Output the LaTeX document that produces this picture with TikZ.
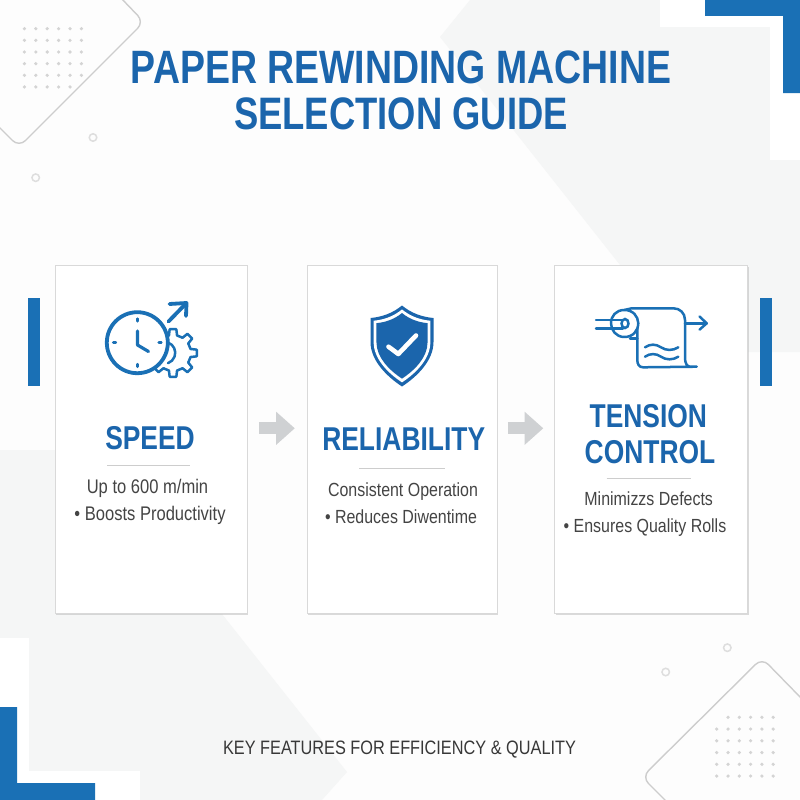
\documentclass[tikz,border=0pt]{standalone}
\usepackage{fontspec}
\setmainfont{Liberation Sans}[FakeStretch=0.84]
\newfontfamily\headfont{Liberation Sans}[FakeStretch=0.80]
\usepackage{tikz}
\usetikzlibrary{arrows.meta}
\usetikzlibrary{shadows}
\usetikzlibrary{shapes.geometric}
\definecolor{paper}{HTML}{FDFDFD}
\definecolor{backdrop}{HTML}{F5F6F6}
\definecolor{brand}{HTML}{1A70B5}
\definecolor{inkblue}{HTML}{1B65AC}
\definecolor{bodygrey}{HTML}{444444}
\definecolor{linegrey}{HTML}{CDCDCD}
\definecolor{arrowgrey}{HTML}{CFD1D3}
\begin{document}
\begin{tikzpicture}[x=1pt,y=-1pt,node distance=27pt]
        \tikzstyle{card} = [draw=black!15, line width=1pt, fill=white, minimum height=348pt,
            general shadow={fill=black!35, opacity=0.4, shadow xshift=1pt, shadow yshift=-2.4pt}];
        \tikzstyle{head} = [font=\headfont\bfseries\fontsize{33}{33}\selectfont, inkblue, inner sep=0pt];
        \tikzstyle{body} = [font=\fontsize{19}{19}\selectfont, bodygrey, inner sep=0pt, text height=17pt, text depth=3pt];
        \tikzstyle{rule} = [linegrey, line width=1.4pt];
        \tikzstyle{outline} = [linegrey, line width=1.4pt, rounded corners=9pt];
        \tikzstyle{ring} = [draw=black!13, line width=1.5pt, circle, minimum size=7.5pt, inner sep=0pt];
        \tikzstyle{icon} = [brand, line width=2.5pt, line cap=round, line join=round];
        \tikzstyle{flow} = [arrowgrey, line width=12pt, -{Triangle[length=18.7pt,width=32pt]}];

        \useasboundingbox (0,0) rectangle (800,800);
        \fill[paper] (0,0) rectangle (800,800);

        % background
        \fill[backdrop] (470,0) -- (660,0) -- (660,27) -- (770,27) -- (770,160) -- (800,160) -- (800,352)
            -- (620,352) -- (620,265) -- (440,37) -- cycle;
        \fill[backdrop] (0,450) -- (100,450) -- (222,614) -- (347,772) -- (322,800) -- (140,800)
            -- (140,771) -- (29,771) -- (29,638) -- (0,638) -- cycle;
        \fill[white] (660,0) rectangle (800,27);
        \fill[white] (770,27) rectangle (800,160);
        \fill[white] (0,638) rectangle (29,800);
        \fill[white] (29,771) rectangle (140,800);

        \draw[outline] (120,-3) -- (144,22) -- (19,147) -- (-4,124);
        \draw[outline] (803,700) -- (762,658) -- (642,777) -- (668,803);
        \foreach \i in {0,...,5} \foreach \j in {0,...,5} {
            \ifnum\numexpr\i*10+\j=55 \else
                \fill[black!17] (24.4+11.4*\i,28.7+11.65*\j) circle (1.8);
            \fi
            \ifnum\numexpr\i*10+\j=0 \else
                \fill[black!17] (716.7+11.3*\i,717.3+11.75*\j) circle (1.8);
            \fi
        }
        \node[ring] (r1) at (93,137.5) {};
        \node[ring] (r2) at (35.7,177.7) {};
        \node[ring] (r3) at (727.3,647.7) {};
        \node[ring] (r4) at (665.7,672) {};

        % blue corners and bars
        \fill[brand] (705,0) -- (800,0) -- (800,93) -- (783,93) -- (783,16) -- (705,16) -- cycle;
        \fill[brand] (0,707) -- (17,707) -- (17,783) -- (95,783) -- (95,800) -- (0,800) -- cycle;
        \fill[brand] (28,297.5) rectangle (40,386);
        \fill[brand] (760,297.5) rectangle (772,386);

        \node[card, minimum width=192pt] (c1) at (151,439) {};
        \node[card, minimum width=190pt] (c2) at (402,439) {};
        \node[card, minimum width=193pt] (c3) at (651,439) {};

        \draw[flow, shorten <=11.3pt, shorten >=11.7pt] ([yshift=10.7pt]c1.east) -- ([yshift=10.7pt]c2.west);
        \draw[flow, shorten <=10.3pt, shorten >=10.7pt] ([yshift=10.7pt]c2.east) -- ([yshift=10.7pt]c3.west);

        % title
        \node[inkblue, font=\headfont\bfseries\fontsize{46.8}{46.6}\selectfont, align=center, inner sep=0pt] (title) at (401,90.5)
            {PAPER REWINDING MACHINE\\{\fontsize{45.5}{46.6}\selectfont SELECTION GUIDE}};
        \node[font=\fontsize{19.4}{19.4}\selectfont, black!78, inner sep=0pt] (foot) at (399.5,749.5)
            {KEY FEATURES FOR EFFICIENCY \& QUALITY};

        % card 1
        \node[head] (h1) at (150,438) {SPEED};
        \draw[rule] (107,465.7) -- (190,465.7);
        \node[body, font=\fontsize{19.7}{19.7}\selectfont, below of=h1, node distance=48pt, xshift=-2.5pt] (a1) {Up to 600 m/min};
        \node[body, font=\fontsize{19.7}{19.7}\selectfont, below of=a1, xshift=2.5pt] (b1) {• Boosts Productivity};

        % card 2
        \node[head] (h2) at (403.7,439) {RELIABILITY};
        \draw[rule] (359.3,468.3) -- (444.7,468.3);
        \node[body, below of=h2, node distance=50pt, xshift=-0.7pt] (a2) {Consistent Operation};
        \node[body, below of=a2, xshift=-2pt] (b2) {• Reduces Diwentime};

        % card 3
        \node[head] (h3) at (648.3,415.7) {TENSION};
        \node[head, below of=h3, node distance=36.6pt, xshift=1.7pt] (h4) {CONTROL};
        \draw[rule] (606.7,478.7) -- (691.3,478.7);
        \node[body, below of=h4, node distance=46pt, xshift=-1.3pt] (a3) {Minimizzs Defects};
        \node[body, below of=a3, xshift=-3.7pt] (b3) {• Ensures Quality Rolls};

        % clock icon
        \begin{scope}[shift={(173,353)}]
            \foreach \a in {0,45,...,315}
                \draw[icon] (\a-13:18) -- (\a-8:24) -- (\a+8:24) -- (\a+13:18) -- (\a+32:18);
            \draw[icon] (-5,-10.5) arc (-70:70:11);
        \end{scope}
        \node[draw=brand, line width=3.8pt, fill=white, circle, minimum size=61pt, inner sep=0pt] (clock) at (137.3,342.7) {};
        \draw[icon, line width=3.2pt] (137.5,331) -- (137.5,345) -- (148.5,351.5);
        \foreach \a in {0,90,180,270}
            \draw[icon, line width=2.8pt] (clock.center) ++(\a:21.5) -- ++(\a:2.5);
        \draw[icon, line width=3.8pt] (168.5,321.5) -- (186,303.5);
        \draw[icon, line width=3.8pt] (169.5,304) -- (186.5,303) -- (186,316);

        % shield icon
        \foreach \s/\c in {1/inkblue,0.90/white,0.81/inkblue}
            \fill[\c, shift={(402,345)}, scale=\s] (0,-39.5) .. controls (-9,-32) and (-20,-28) .. (-31.5,-27)
                -- (-31.5,-3) .. controls (-31.5,15) and (-16,31) .. (0,41.5)
                .. controls (16,31) and (31.5,15) .. (31.5,-3) -- (31.5,-27)
                .. controls (20,-28) and (9,-32) .. (0,-39.5) -- cycle;
        \draw[white, line width=4.6pt, line cap=round, line join=round] (388.5,346.7) -- (398.3,354) -- (416,335.5);

        % roll icon
        \draw[icon] (624.3,310) -- (631.7,308.3) -- (673.3,308.3) .. controls (680,308.3) and (685,313) .. (685,320)
            -- (685,358) .. controls (685,363) and (687,366.7) .. (690,366.7) -- (696.7,366.7)
            -- (643,367.3) .. controls (639,367.3) and (637.3,364) .. (637.3,360) -- (637.3,323);
        \draw[icon, fill=white] (624.3,310) .. controls (633,310) and (638,316) .. (638.3,323.3) .. controls (638,331) and (633,337) .. (624.3,337)
            .. controls (616,337) and (611,330) .. (611,323.3) .. controls (611,316) and (616,310) .. (624.3,310);
        \draw[icon] (596,320) -- (623,320);
        \draw[icon] (596,328.3) -- (623,328.3);
        \draw[icon] (630,338.3) -- (637.3,338.3);
        \node[draw=brand, line width=2.5pt, fill=white, ellipse, minimum width=7pt, minimum height=9pt, inner sep=0pt] (core) at (625,323.5) {};
        \foreach \y in {347.3,356.7}
            \draw[icon] (645,\y) .. controls (650,\y-3.5) and (656,\y-3.5) .. (661,\y)
                .. controls (666,\y+3.5) and (673,\y+3.5) .. (678.3,\y);
        \draw[icon] (685,323.3) -- (706.7,323.3);
        \draw[icon] (699.6,316.6) -- (706.7,323.3) -- (699.6,329.6);
\end{tikzpicture}
\end{document}
